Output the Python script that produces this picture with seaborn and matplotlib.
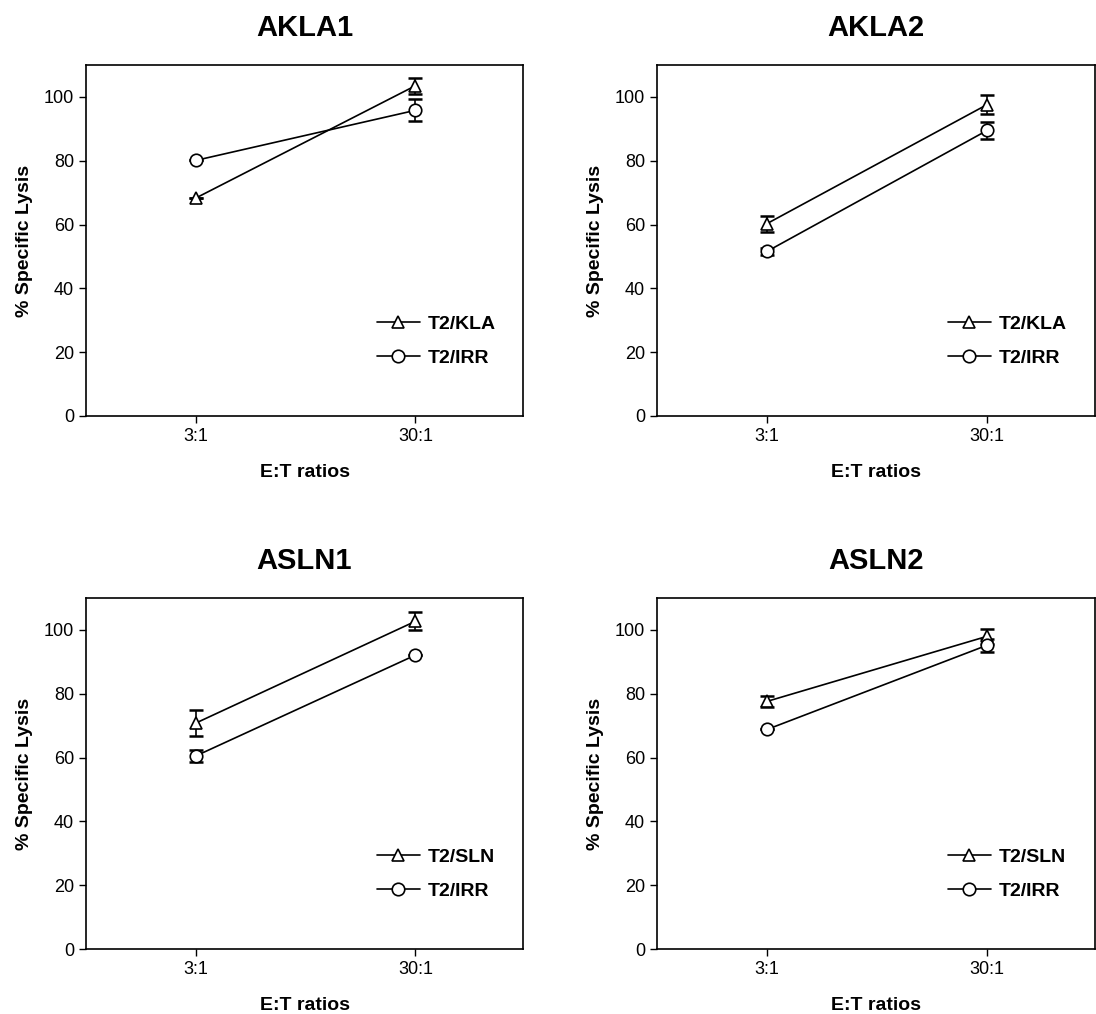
import matplotlib
matplotlib.use("Agg")
import matplotlib.pyplot as plt
from matplotlib.lines import Line2D
import seaborn as sns
import pandas as pd

sns.set_style("ticks")
plt.rcParams['font.family'] = ['Liberation Sans', 'DejaVu Sans']
plt.rcParams['text.color'] = 'black'
plt.rcParams['axes.labelcolor'] = 'black'
plt.rcParams['xtick.color'] = 'black'
plt.rcParams['ytick.color'] = 'black'

ratios = ["3:1", "30:1"]

titles = ["AKLA1", "AKLA2", "ASLN1", "ASLN2"]
peptide_labels = ["T2/KLA", "T2/KLA", "T2/SLN", "T2/SLN"]
irr_label = "T2/IRR"

pep_means = [[68.3, 103.5], [60.3, 97.6], [70.8, 102.7], [77.6, 98.0]]
pep_errs = [[0.0, 2.5], [2.5, 2.9], [4.2, 2.8], [1.8, 2.3]]
irr_means = [[80.1, 95.8], [51.6, 89.5], [60.5, 92.1], [68.8, 95.2]]
irr_errs = [[0.0, 3.5], [1.0, 2.7], [1.9, 0.0], [0.0, 2.0]]

yticks = [0, 20, 40, 60, 80, 100]

fig = plt.figure(figsize=(10.96, 10.14), dpi=100)
W, H = 1096, 1014
boxes = [(86, 65, 523, 416), (657, 65, 1095, 416),
         (86, 598, 523, 949), (657, 598, 1095, 949)]

for i, (l, t, r, b) in enumerate(boxes):
    ax = fig.add_axes([l / W, (H - b) / H, (r - l) / W, (b - t) / H])
    labels = [peptide_labels[i], irr_label]
    df = pd.DataFrame({
        "ratio": ratios * 2,
        "lysis": pep_means[i] + irr_means[i],
        "err": pep_errs[i] + irr_errs[i],
        "group": [labels[0]] * 2 + [labels[1]] * 2,
    })
    for g in labels:
        sub = df[df["group"] == g]
        ax.errorbar(sub["ratio"], sub["lysis"], yerr=sub["err"], fmt="none",
                    ecolor="black", elinewidth=1.2, capsize=5, capthick=1.8,
                    zorder=2)
    sns.lineplot(data=df, x="ratio", y="lysis", style="group",
                 style_order=labels, markers=["^", "o"], dashes=False,
                 color="black", markersize=9, markerfacecolor="white",
                 markeredgecolor="black", markeredgewidth=1.2, lw=1.2,
                 sort=False, legend=False, ax=ax, zorder=3)
    ax.set_xlim(-0.5, 1.49)
    ax.set_ylim(0, 110)
    ax.set_yticks(yticks)
    ax.tick_params(axis="both", direction="out", length=5, width=1.0,
                   labelsize=13, colors="black")
    for s in ax.spines.values():
        s.set_color("black")
        s.set_linewidth(1.2)
    ax.set_xlabel("E:T ratios", fontsize=14, fontweight="bold", labelpad=14)
    ax.set_ylabel("% Specific Lysis", fontsize=14, fontweight="bold", labelpad=8)
    ax.set_title(titles[i], fontsize=21, fontweight="bold", pad=21)
    handles = [
        Line2D([], [], color="black", lw=1.2, marker="^", markersize=9,
               markerfacecolor="white", markeredgecolor="black", markeredgewidth=1.2),
        Line2D([], [], color="black", lw=1.2, marker="o", markersize=9,
               markerfacecolor="white", markeredgecolor="black", markeredgewidth=1.2),
    ]
    ax.legend(handles, labels, loc="upper left",
              bbox_to_anchor=(291 / (r - l), 1 - 250 / (b - t)),
              frameon=False, borderpad=0, borderaxespad=0,
              handlelength=2.2, handletextpad=0.4, labelspacing=0.85,
              prop={"size": 14, "weight": "bold"})

fig.savefig("out.png", dpi=100)
